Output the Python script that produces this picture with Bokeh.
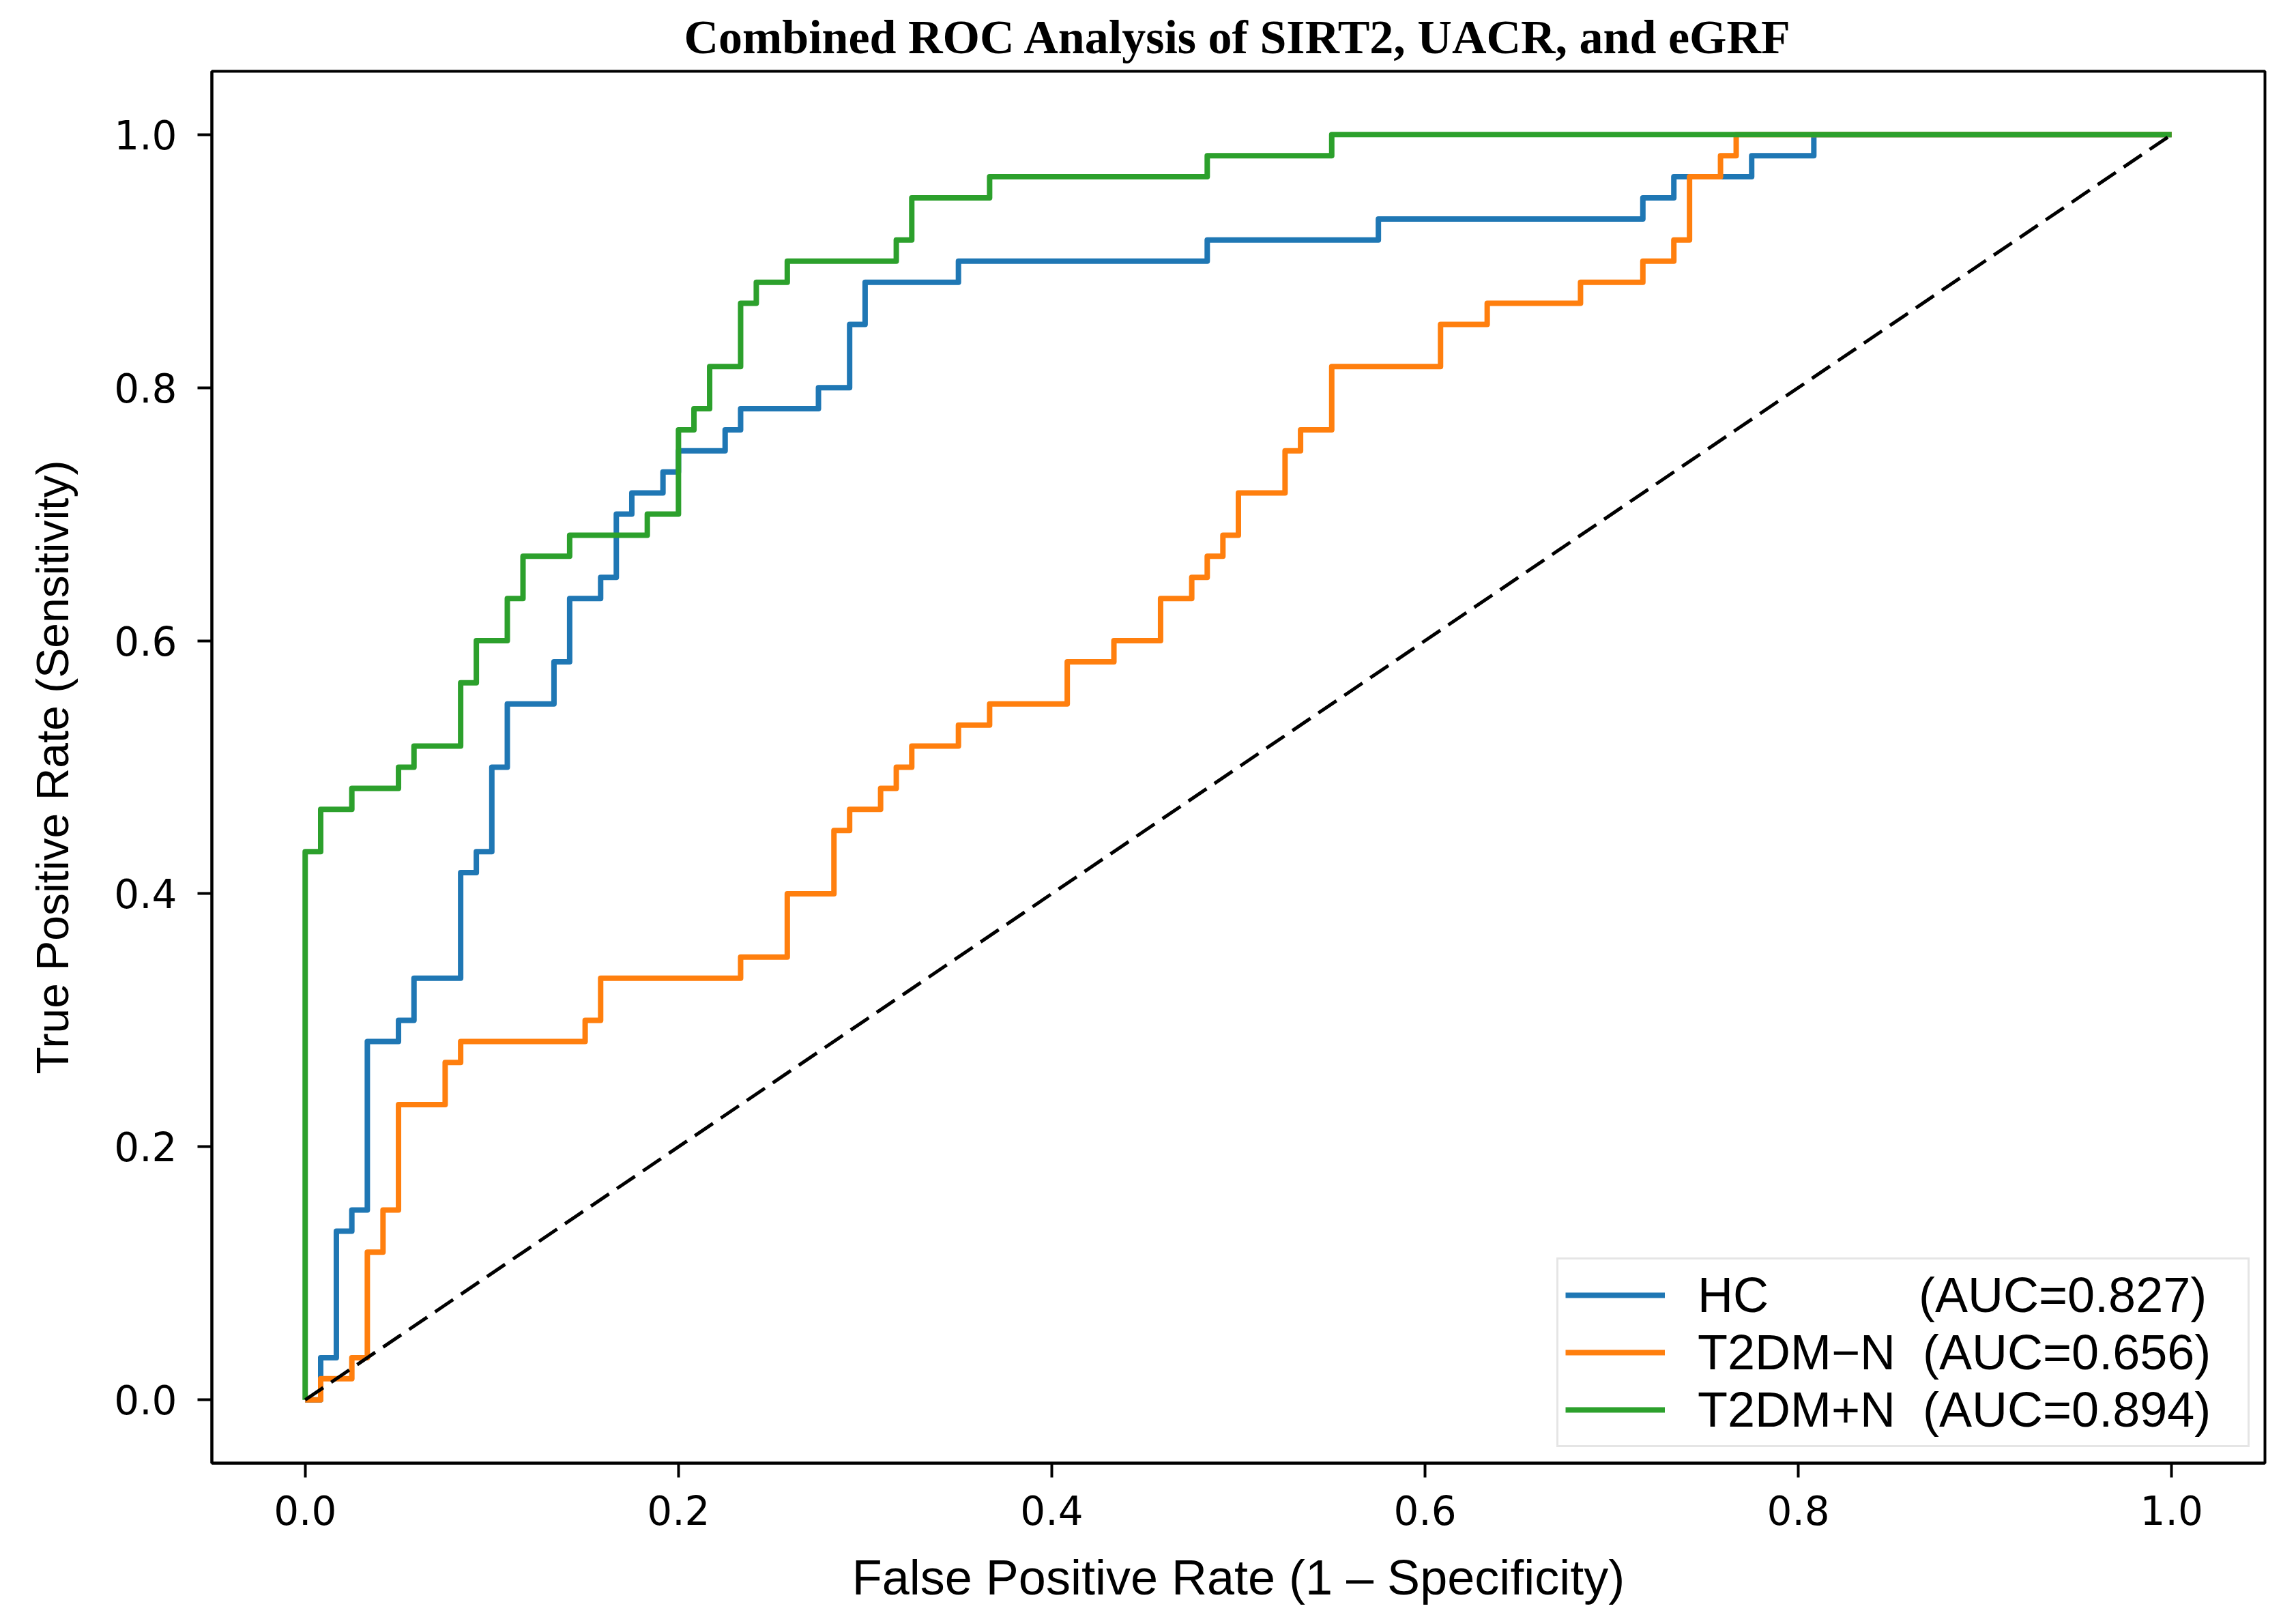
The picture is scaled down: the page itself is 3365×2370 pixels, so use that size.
from bokeh.plotting import figure
from bokeh.models import Range1d, FixedTicker, PrintfTickFormatter, Legend, LegendItem
from bokeh.embed import file_html
from bokeh.resources import INLINE

# ---------------- data ----------------
title_text = "Combined ROC Analysis of SIRT2, UACR, and eGRF"
x_label = "False Positive Rate (1 \u2013 Specificity)"
y_label = "True Positive Rate (Sensitivity)"
tick_values = [0.0, 0.2, 0.4, 0.6, 0.8, 1.0]

group_names = ["HC", "T2DM\u2212N", "T2DM+N"]
auc_values = [0.827, 0.656, 0.894]
colors = ["#1f77b4", "#ff7f0e", "#2ca02c"]

# ROC corner points (curve steps horizontally, then up)
hc_fpr = [0.0, 0.0083, 0.0167, 0.025, 0.0333, 0.05, 0.0583, 0.0833, 0.0917, 0.1,
          0.1083, 0.1333, 0.1417, 0.1583, 0.1667, 0.175, 0.1917, 0.2, 0.225, 0.2333,
          0.275, 0.2917, 0.3, 0.35, 0.4833, 0.575, 0.7167, 0.7333, 0.775, 0.8083, 1.0]
hc_tpr = [0.0, 0.0333, 0.1333, 0.15, 0.2833, 0.3, 0.3333, 0.4167, 0.4333, 0.5,
          0.55, 0.5833, 0.6333, 0.65, 0.7, 0.7167, 0.7333, 0.75, 0.7667, 0.7833,
          0.8, 0.85, 0.8833, 0.9, 0.9167, 0.9333, 0.95, 0.9667, 0.9833, 1.0, 1.0]

t2n_fpr = [0.0, 0.0083, 0.025, 0.0333, 0.0417, 0.05, 0.075, 0.0833, 0.15, 0.1583,
           0.2333, 0.2583, 0.2833, 0.2917, 0.3083, 0.3167, 0.325, 0.35, 0.3667, 0.4083,
           0.4333, 0.4583, 0.475, 0.4833, 0.4917, 0.5, 0.525, 0.5333, 0.55, 0.6083,
           0.6333, 0.6833, 0.7167, 0.7333, 0.7417, 0.7583, 0.7667, 1.0]
t2n_tpr = [0.0, 0.0167, 0.0333, 0.1167, 0.15, 0.2333, 0.2667, 0.2833, 0.3, 0.3333,
           0.35, 0.4, 0.45, 0.4667, 0.4833, 0.5, 0.5167, 0.5333, 0.55, 0.5833,
           0.6, 0.6333, 0.65, 0.6667, 0.6833, 0.7167, 0.75, 0.7667, 0.8167, 0.85,
           0.8667, 0.8833, 0.9, 0.9167, 0.9667, 0.9833, 1.0, 1.0]

t2p_fpr = [0.0, 0.0, 0.0083, 0.025, 0.05, 0.0583, 0.0833, 0.0917, 0.1083, 0.1167,
           0.1417, 0.1833, 0.2, 0.2083, 0.2167, 0.2333, 0.2417, 0.2583, 0.3167, 0.325,
           0.3667, 0.4833, 0.55, 1.0]
t2p_tpr = [0.0, 0.4333, 0.4667, 0.4833, 0.5, 0.5167, 0.5667, 0.6, 0.6333, 0.6667,
           0.6833, 0.7, 0.7667, 0.7833, 0.8167, 0.8667, 0.8833, 0.9, 0.9167, 0.95,
           0.9667, 0.9833, 1.0, 1.0]

chance_x = [0.0, 1.0]
chance_y = [0.0, 1.0]

series_fpr = [hc_fpr, t2n_fpr, t2p_fpr]
series_tpr = [hc_tpr, t2n_tpr, t2p_tpr]

# ---------------- figure ----------------
W, H = 3349, 2354
p = figure(width=W, height=H, output_backend="svg", toolbar_location=None,
           x_range=Range1d(-0.05, 1.05), y_range=Range1d(-0.05, 1.05),
           min_border_left=310, min_border_right=30,
           min_border_top=104, min_border_bottom=208)

p.background_fill_color = "white"
p.border_fill_color = "white"
p.grid.visible = False
p.outline_line_color = "black"
p.outline_line_width = 4

p.title.text = title_text
p.title.text_font = "Liberation Serif"
p.title.text_font_style = "bold"
p.title.text_font_size = "70px"
p.title.text_color = "black"
p.title.align = "center"
p.title.standoff = 24

for ax in (p.xaxis, p.yaxis):
    ax.ticker = FixedTicker(ticks=tick_values)
    ax.formatter = PrintfTickFormatter(format="%.1f")
    ax.minor_tick_line_color = None
    ax.major_tick_in = 0
    ax.major_tick_out = 21
    ax.major_tick_line_width = 4
    ax.axis_line_width = 4
    ax.major_label_text_font = "DejaVu Sans"
    ax.major_label_text_font_size = "58px"
    ax.major_label_text_color = "black"
    ax.axis_label_text_font = "Liberation Sans"
    ax.axis_label_text_font_style = "normal"
    ax.axis_label_text_color = "black"

p.xaxis.axis_label = x_label
p.xaxis.axis_label_text_font_size = "72px"
p.xaxis.major_label_standoff = 26
p.xaxis.axis_label_standoff = 34

p.yaxis.axis_label = y_label
p.yaxis.axis_label_text_font_size = "66px"
p.yaxis.major_label_standoff = 30
p.yaxis.axis_label_standoff = 50

renderers = []
for fpr, tpr, c in zip(series_fpr, series_tpr, colors):
    r = p.step(x=fpr, y=tpr, mode="after", line_color=c, line_width=8,
               line_join="round")
    renderers.append(r)

p.line(chance_x, chance_y, line_color="black", line_width=5, line_dash="32 14")

pads = {"HC": "\u00a0" * 11, "T2DM\u2212N": "\u00a0" * 2, "T2DM+N": "\u00a0" * 2}
items = []
for name, auc, r in zip(group_names, auc_values, renderers):
    items.append(LegendItem(label=f"{name}{pads[name]}(AUC={auc:.3f})", renderers=[r]))

legend = Legend(items=items, location=(1971, 23), orientation="vertical",
                glyph_width=146, glyph_height=84, label_height=84, label_width=796,
                label_standoff=48, padding=10, spacing=0, margin=0,
                label_text_font="Liberation Sans", label_text_font_size="72px",
                label_text_color="black",
                border_line_color="#cccccc", border_line_width=3,
                background_fill_color="white", background_fill_alpha=0.8)
p.add_layout(legend)

open("out.html", "w").write(file_html(p, INLINE))
